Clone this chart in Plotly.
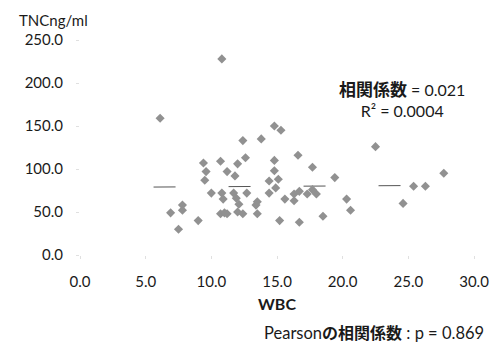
import plotly.graph_objects as go

# WBC (x) and TNC ng/ml (y) values
wbc = [10.8, 6.1, 14.8, 15.3, 12.4, 13.8, 22.5, 16.6, 17.7, 9.4,
       10.7, 12.0, 12.6, 14.8, 9.6, 9.5, 11.2, 11.8, 14.8, 14.4,
       15.1, 14.9, 14.4, 15.6, 10.0, 10.8, 10.9, 11.7, 11.9, 12.7,
       12.1, 13.5, 13.4, 7.8, 7.8, 6.9, 9.0, 7.5, 10.7, 11.0,
       11.2, 12.0, 12.4, 13.5, 15.2, 16.3, 16.3, 16.7, 17.3, 18.0,
       17.7, 19.4, 20.3, 20.6, 18.5, 16.7, 25.4, 26.3, 27.7, 24.6]
tnc = [228, 159, 150, 145, 133, 135, 126, 116, 102, 107,
       109, 106, 113, 110, 97, 87, 97, 92, 98, 86,
       88, 78, 72, 65, 72, 72, 65, 72, 66, 72,
       59, 62, 58, 58, 52, 49, 40, 30, 48, 49,
       48, 50, 48, 48, 40, 71, 63, 74, 71, 71,
       76, 90, 65, 52, 45, 38, 80, 80, 95, 60]

# linear trendline (nearly flat, R^2 = 0.0004)
trend_x = [5.6, 27.7]
trend_y = [79.0, 81.0]

x_ticks = [0, 5, 10, 15, 20, 25, 30]
y_ticks = [0, 50, 100, 150, 200, 250]

FONT = "Lato, 'Noto Sans CJK JP', sans-serif"
CJK = "font-family:'Noto Sans CJK JP';font-size:17px;font-weight:bold"
CJK_B = "font-family:'Noto Sans CJK JP';font-size:16px;font-weight:bold"

fig = go.Figure()
fig.add_trace(go.Scatter(
    x=trend_x, y=trend_y, mode="lines",
    line=dict(color="#555555", width=1, dash="22px,53px"),
    hoverinfo="skip", showlegend=False))
fig.add_trace(go.Scatter(
    x=wbc, y=tnc, mode="markers",
    marker=dict(symbol="diamond", size=7, color="#919191",
                line=dict(width=0)),
    showlegend=False))

# plot area spans pixels x 80..487, y 40..255 -> helpers for paper coords
def px(x):
    return (x - 80) / 407

def py(y):
    return (255 - y) / 215

fig.update_layout(
    width=501, height=344,
    margin=dict(l=80, r=14, t=40, b=89),
    paper_bgcolor="white", plot_bgcolor="white",
    font=dict(family=FONT, size=15, color="#1a1a1a"),
    xaxis=dict(range=[0, 30], tickvals=x_ticks, tickformat=".1f",
               showgrid=False, zeroline=False, showline=False,
               ticks="outside", ticklen=3, tickcolor="#e0e0e0",
               ticklabelstandoff=10, ticklabeloverflow="allow",
               title=dict(text="<b>WBC</b>", font=dict(size=16), standoff=9)),
    yaxis=dict(range=[0, 250], tickvals=y_ticks, tickformat=".1f",
               showgrid=False, zeroline=False, showline=False,
               ticks="outside", ticklen=3, tickcolor="#e0e0e0",
               ticklabelstandoff=10),
    annotations=[
        dict(text="TNCng/ml", x=px(15), y=py(20),
             xref="paper", yref="paper", showarrow=False,
             xanchor="left", yanchor="middle", font=dict(size=15)),
        dict(text=f"<span style=\"{CJK}\">相関係数</span> = 0.021<br>R² = 0.0004",
             x=px(413), y=py(98),
             xref="paper", yref="paper", showarrow=False,
             xanchor="center", yanchor="middle", align="center",
             font=dict(size=16)),
        dict(text=f"Pearson<span style=\"{CJK_B}\">の相関係数</span> : p = 0.869",
             x=px(499), y=py(332),
             xref="paper", yref="paper", showarrow=False,
             xanchor="right", yanchor="middle", font=dict(size=16.5)),
    ],
)

fig.write_html("out.html", post_script="document.body.style.margin='0';",
               config={"displayModeBar": False})
